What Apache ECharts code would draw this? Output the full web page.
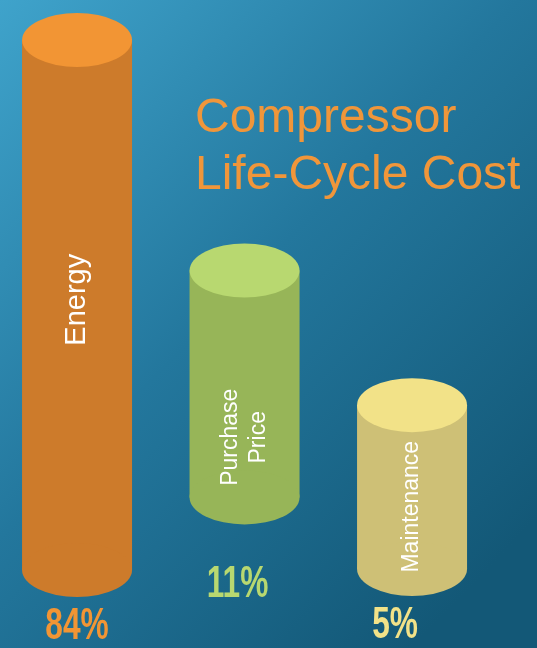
<!DOCTYPE html>
<html><head><meta charset="utf-8">
<script src="https://cdn.jsdelivr.net/npm/echarts@6/dist/echarts.min.js"></script>
<style>html,body{margin:0;padding:0;}#chart{width:537px;height:648px;}</style>
</head><body>
<div id="chart"></div>
<script>
// data
var names = ['Energy', 'Purchase\nPrice', 'Maintenance'];
var values = [84, 11, 5];
// column top / base level on the hidden 0-100 axis (the cylinders are drawn decoratively)
var columnTop = [100, 56.5, 31.1];
var columnBase = [0, 13.7, 0.2];

// styling
var topColors = ['#F29534', '#B8D870', '#F2E288'];
var sideColors = ['#CD7B2B', '#97B558', '#CEC076'];
var nameSize = [29, 23, 23];
var nameAt = [0.49, 0.735, 0.62];   // where the name sits along the body
var pctDx = [0, -7, -17];
var pctGap = [30, 60, 30];

var chart = echarts.init(document.getElementById('chart'));
chart.setOption({
  backgroundColor: {
    type: 'linear', x: 0, y: 0, x2: 1, y2: 0.8,
    colorStops: [
      { offset: 0, color: '#3FA3CB' },
      { offset: 0.5, color: '#23779D' },
      { offset: 1, color: '#135877' }
    ]
  },
  title: {
    text: 'Compressor\nLife-Cycle Cost',
    left: 195,
    top: 90,
    padding: 0,
    textStyle: {
      fontFamily: 'Liberation Sans',
      fontWeight: 'normal',
      fontSize: 48,
      lineHeight: 57,
      color: '#F0963A'
    }
  },
  grid: { left: 0, right: 0, top: 40, bottom: 78 },
  // columns sit at their index; the range just spaces them like the picture
  xAxis: { type: 'value', min: -0.46, max: 2.746, show: false },
  yAxis: { type: 'value', min: 0, max: 100, show: false },
  series: [{
    type: 'custom',
    data: names.map(function (n, i) { return [i, columnTop[i], columnBase[i]]; }),
    renderItem: function (params, api) {
      var i = params.dataIndex;
      var top = api.coord([api.value(0), api.value(1)]);
      var base = api.coord([api.value(0), api.value(2)]);
      var cx = top[0];
      var rx = 55, ry = 27;
      return {
        type: 'group',
        children: [
          { type: 'rect', shape: { x: cx - rx, y: top[1], width: rx * 2, height: base[1] - top[1] },
            style: { fill: sideColors[i] } },
          { type: 'circle', x: cx, y: base[1], scaleY: ry / rx, shape: { cx: 0, cy: 0, r: rx },
            style: { fill: sideColors[i] } },
          { type: 'circle', x: cx, y: top[1], scaleY: ry / rx, shape: { cx: 0, cy: 0, r: rx },
            style: { fill: topColors[i] } },
          { type: 'text', x: cx, y: top[1] + (base[1] - top[1]) * nameAt[i], rotation: Math.PI / 2,
            style: { text: names[i], fill: '#ffffff', fontFamily: 'Liberation Sans', fontSize: nameSize[i],
              lineHeight: nameSize[i] * 1.2, align: 'center', verticalAlign: 'middle',
              textAlign: 'center', textVerticalAlign: 'middle' } },
          { type: 'text', x: cx + pctDx[i], y: base[1] + ry + pctGap[i], scaleX: 0.72,
            style: { text: values[i] + '%', fill: topColors[i], fontFamily: 'Liberation Sans',
              fontWeight: 'bold', fontSize: 44, align: 'center', verticalAlign: 'middle',
              textAlign: 'center', textVerticalAlign: 'middle' } }
        ]
      };
    }
  }]
});
</script>
</body></html>
